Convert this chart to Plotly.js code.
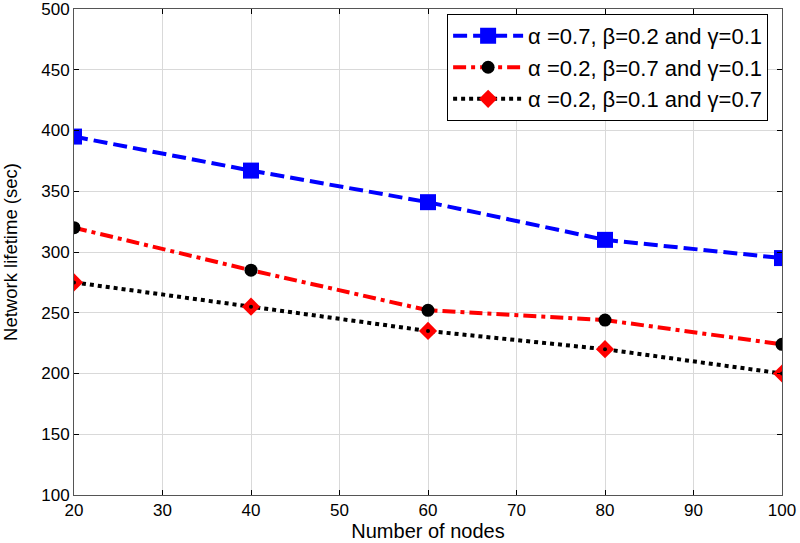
<!DOCTYPE html>
<html>
<head>
<meta charset="utf-8">
<script src="https://cdn.plot.ly/plotly-3.0.1.min.js"></script>
<style>html,body{margin:0;padding:0;background:#fff}#chart{width:800px;height:543px}</style>
</head>
<body>
<div id="chart"></div>
<script>
const nodes = [20, 40, 60, 80, 100];
const lifetimeA = [395, 367, 341, 310, 295];
const lifetimeB = [320, 285, 252, 244, 224];
const lifetimeC = [275, 255, 235, 220, 200];
const names = [
  "\u03B1 =0.7, \u03B2=0.2 and \u03B3=0.1",
  "\u03B1 =0.2, \u03B2=0.7 and \u03B3=0.1",
  "\u03B1 =0.2, \u03B2=0.1 and \u03B3=0.7"
];
const xTicks = [20, 30, 40, 50, 60, 70, 80, 90, 100];
const yTicks = [100, 150, 200, 250, 300, 350, 400, 450, 500];

const traces = [
  {x: nodes, y: lifetimeA, name: names[0], mode: 'lines+markers',
   line: {color: '#0000ff', width: 4, dash: '14px,6px'},
   marker: {symbol: 'square', size: 16, color: '#0000ff'}},
  {x: nodes, y: lifetimeB, name: names[1], mode: 'lines+markers',
   line: {color: '#ff0000', width: 4, dash: '13px,5px,4px,5px'},
   marker: {symbol: 'circle', size: 13, color: '#000000'}},
  {x: nodes, y: lifetimeC, name: names[2], mode: 'lines+markers',
   line: {color: '#000000', width: 4, dash: '4px,4px'},
   marker: {symbol: 'diamond', size: 14, color: '#ff0000'}},
  {x: nodes, y: lifetimeC, mode: 'markers', showlegend: false, hoverinfo: 'skip',
   marker: {symbol: 'circle', size: 4, color: '#000000'}}
];

const axisCommon = {
  showline: true, linecolor: '#555', linewidth: 1, mirror: 'ticks',
  ticks: 'inside', ticklen: 5, tickcolor: '#000', tickwidth: 1,
  showgrid: true, gridcolor: '#d9d9d9', gridwidth: 1, ticklabeloverflow: 'allow',
  zeroline: false, tickfont: {family: 'Liberation Sans, Arial, sans-serif', size: 17, color: '#000'}
};

const layout = {
  width: 800, height: 543,
  margin: {l: 74, r: 18, t: 9, b: 48},
  paper_bgcolor: '#fff', plot_bgcolor: '#fff',
  font: {family: 'Liberation Sans, Arial, sans-serif', color: '#000'},
  xaxis: Object.assign({}, axisCommon, {
    range: [20, 100], tickvals: xTicks,
    title: {text: 'Number of nodes', font: {size: 20}, standoff: 3}
  }),
  yaxis: Object.assign({}, axisCommon, {
    range: [100, 500], tickvals: yTicks,
    title: {text: 'Network lifetime (sec)', font: {size: 18.5}, standoff: 23}
  }),
  legend: {
    x: 0.527, y: 0.99, xanchor: 'left', yanchor: 'top',
    bgcolor: '#fff', bordercolor: '#000', borderwidth: 1,
    font: {size: 22, color: '#000'}, itemwidth: 70
  },
  showlegend: true
};

Plotly.newPlot('chart', traces, layout, {staticPlot: true});
</script>
</body>
</html>
